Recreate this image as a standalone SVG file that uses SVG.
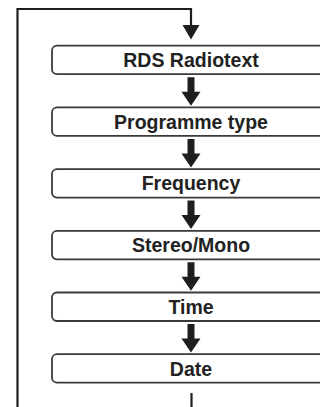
<svg xmlns="http://www.w3.org/2000/svg" width="320" height="407" viewBox="0 0 320 407">
<style>
.box{fill:#fff;stroke:#3a3a3a;stroke-width:1.8}
.lbl{font-family:"Liberation Sans",Arial,sans-serif;font-weight:bold;font-size:19.5px;fill:#222;text-anchor:middle}
.line{fill:none;stroke:#1e1e1e;stroke-width:2.2}
.big{fill:#1e1e1e}
</style>
<defs>
<path id="arr" class="big" d="M-3.5,0 H3.5 V14.5 H9.5 L0,28.5 L-9.5,14.5 H-3.5 Z"/>
</defs>
<rect width="320" height="407" fill="#fff"/>
<g id="connectors">
<path class="line" d="M17.5,407 V9 H191 V26"/>
<path class="big" d="M182.5,25 H199.5 L191,39.5 Z"/>
<use href="#arr" x="191" y="77.2"/>
<use href="#arr" x="191" y="138.9"/>
<use href="#arr" x="191" y="200.6"/>
<use href="#arr" x="191" y="262.3"/>
<use href="#arr" x="191" y="324"/>
<path class="line" d="M191.5,393 V407" stroke-width="2.5"/>
</g>
<g id="n1"><rect class="box" x="52" y="45.7" width="290" height="28.5" rx="5"/><text class="lbl" x="191" y="67">RDS Radiotext</text></g>
<g id="n2"><rect class="box" x="52" y="107.4" width="290" height="28.5" rx="5"/><text class="lbl" x="191" y="128.7">Programme type</text></g>
<g id="n3"><rect class="box" x="52" y="169.1" width="290" height="28.5" rx="5"/><text class="lbl" x="191" y="190.4">Frequency</text></g>
<g id="n4"><rect class="box" x="52" y="230.8" width="290" height="28.5" rx="5"/><text class="lbl" x="191" y="252.1">Stereo/Mono</text></g>
<g id="n5"><rect class="box" x="52" y="292.5" width="290" height="28.5" rx="5"/><text class="lbl" x="191" y="313.8">Time</text></g>
<g id="n6"><rect class="box" x="52" y="354.2" width="290" height="28.5" rx="5"/><text class="lbl" x="191" y="375.5">Date</text></g>
</svg>
